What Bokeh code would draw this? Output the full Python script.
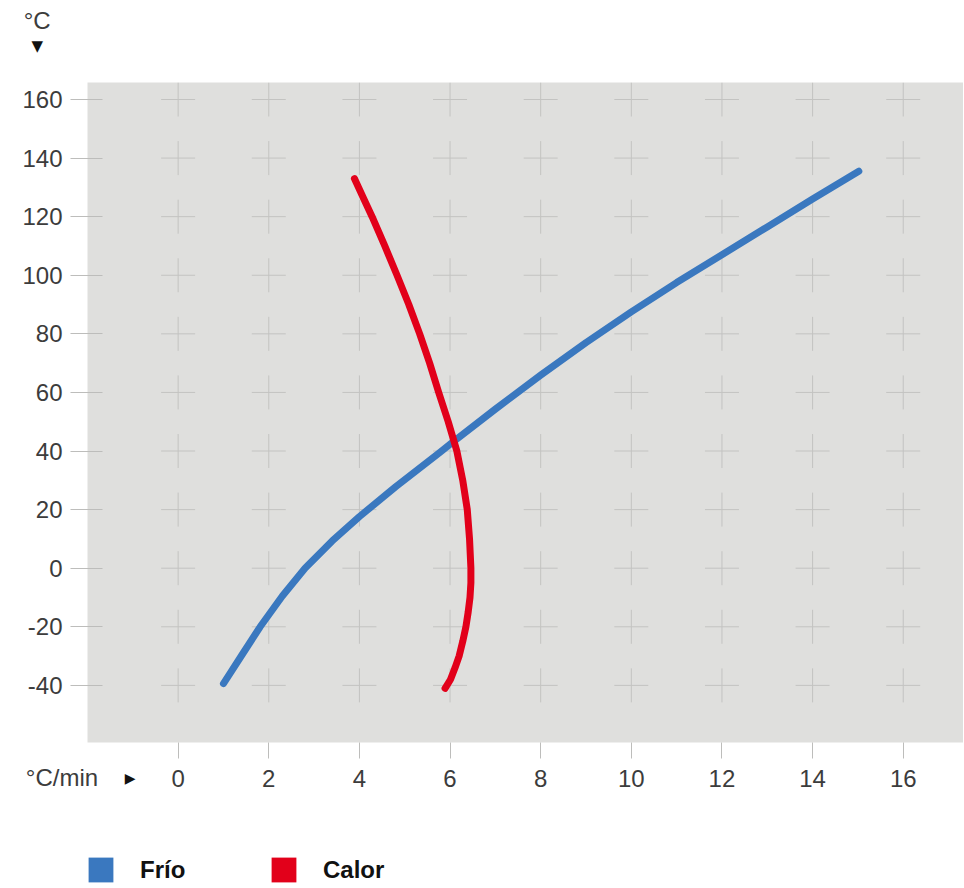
from bokeh.plotting import figure
from bokeh.models import Label, Legend, LegendItem, FixedTicker, Range1d
from bokeh.layouts import column
from bokeh.embed import file_html
from bokeh.resources import INLINE
import numpy as np

# ---- data ----
x_ticks = [0, 2, 4, 6, 8, 10, 12, 14, 16]
y_ticks = [-40, -20, 0, 20, 40, 60, 80, 100, 120, 140, 160]

frio_x = [1.0, 1.4, 1.81, 2.3, 2.8, 3.4, 4.0, 4.8, 5.78, 6.0, 7.0, 8.0, 9.0, 10.0, 11.0, 12.0, 13.0, 14.0, 15.02]
frio_y = [-39.4, -29.8, -20, -9.5, 0, 9.3, 17.6, 27.8, 39.6, 42.3, 54.3, 65.9, 77, 87.5, 97.5, 107, 116.5, 126, 135.5]

calor_x = [3.89, 4.07, 4.28, 4.56, 4.83, 5.09, 5.33, 5.55, 5.75, 5.96, 6.15, 6.28, 6.38, 6.43,
           6.46, 6.46, 6.44, 6.40, 6.35, 6.28, 6.20, 6.11, 6.01, 5.89]
calor_y = [133, 127, 120, 110, 100, 90, 80, 70, 60, 50, 40, 30, 20, 10,
           0, -5, -10, -15, -20, -25, -30, -34, -38, -41]

series_names = ["Frío", "Calor"]
BLUE = "#3a78bf"
RED = "#e2001a"
FONT = "Liberation Sans"
TXT = "#3c3c3c"
FS = "24px"

# ---------------- main chart ----------------
p = figure(width=963, height=800,
           x_range=Range1d(-2.0, 17.33), y_range=Range1d(-59.5, 165.8),
           output_backend="svg", toolbar_location=None,
           min_border_left=87, min_border_right=0, min_border_top=82, min_border_bottom=58)

p.background_fill_color = "#dfdfdd"
p.border_fill_color = "white"
p.outline_line_color = None
p.xgrid.visible = False
p.ygrid.visible = False

# grid crosses at tick intersections
gx, gy = np.meshgrid(x_ticks, y_ticks)
p.scatter(gx.ravel(), gy.ravel(), marker="cross", size=34,
          line_color="#c3c3c1", line_width=1)

for ax in (p.xaxis, p.yaxis):
    ax.axis_line_color = None
    ax.minor_tick_line_color = None
    ax.major_tick_line_color = "#bdbdbb"
    ax.major_label_text_font = FONT
    ax.major_label_text_font_size = FS
    ax.major_label_text_color = TXT

p.xaxis.ticker = FixedTicker(ticks=x_ticks)
p.xaxis.major_tick_out = 16
p.xaxis.major_tick_in = 0
p.xaxis.major_label_standoff = 11

p.yaxis.ticker = FixedTicker(ticks=y_ticks)
p.yaxis.major_tick_out = 17
p.yaxis.major_tick_in = 15
p.yaxis.major_label_standoff = 8
p.yaxis.major_label_overrides = {t: str(t) for t in y_ticks}

p.line(frio_x, frio_y, line_color=BLUE, line_width=7, line_cap="round", line_join="round")
p.line(calor_x, calor_y, line_color=RED, line_width=7, line_cap="round", line_join="round")

# axis titles, kept in side panels so they are not clipped to the frame
p.add_layout(Label(x=-3.11, y=187, text="°C", text_align="center", text_baseline="middle",
                   text_font=FONT, text_font_size=FS, text_color=TXT), "above")
p.add_layout(Label(x=-3.11, y=178.4, text="▼", text_align="center", text_baseline="middle",
                   text_font="DejaVu Sans", text_font_size="15px", text_color="#111111"), "above")
p.add_layout(Label(x=-3.36, y=-71.5, text="°C/min", text_align="left", text_baseline="middle",
                   text_font=FONT, text_font_size=FS, text_color=TXT), "above")
p.add_layout(Label(x=-1.06, y=-71.5, text="▶", text_align="center", text_baseline="middle",
                   text_font="DejaVu Sans", text_font_size="14px", text_color="#111111"), "left")

# ---------------- legend strip ----------------
q = figure(width=963, height=87, x_range=Range1d(0, 1), y_range=Range1d(0, 1),
           output_backend="svg", toolbar_location=None,
           min_border=0, min_border_left=0, min_border_right=0, min_border_top=0, min_border_bottom=0)
q.axis.visible = False
q.grid.visible = False
q.outline_line_color = None
q.background_fill_color = "white"
q.border_fill_color = "white"

# zero-size swatch renderers (only their legend glyphs show)
r_b = q.quad(left=[0], right=[0], top=[0], bottom=[0], fill_color=BLUE, line_color=None)
r_r = q.quad(left=[0], right=[0], top=[0], bottom=[0], fill_color=RED, line_color=None)
legend = Legend(items=[LegendItem(label=series_names[0], renderers=[r_b]),
                       LegendItem(label=series_names[1], renderers=[r_r])],
                location=(-2, 2), orientation="horizontal",
                glyph_width=31, glyph_height=31, label_standoff=24, label_width=110,
                spacing=18, padding=0, margin=0, border_line_color=None,
                background_fill_alpha=0, label_text_font=FONT,
                label_text_font_style="bold", label_text_font_size=FS,
                label_text_color="#111111", label_text_baseline="middle")
q.add_layout(legend)

open("out.html", "w").write(file_html(column(p, q), INLINE))
